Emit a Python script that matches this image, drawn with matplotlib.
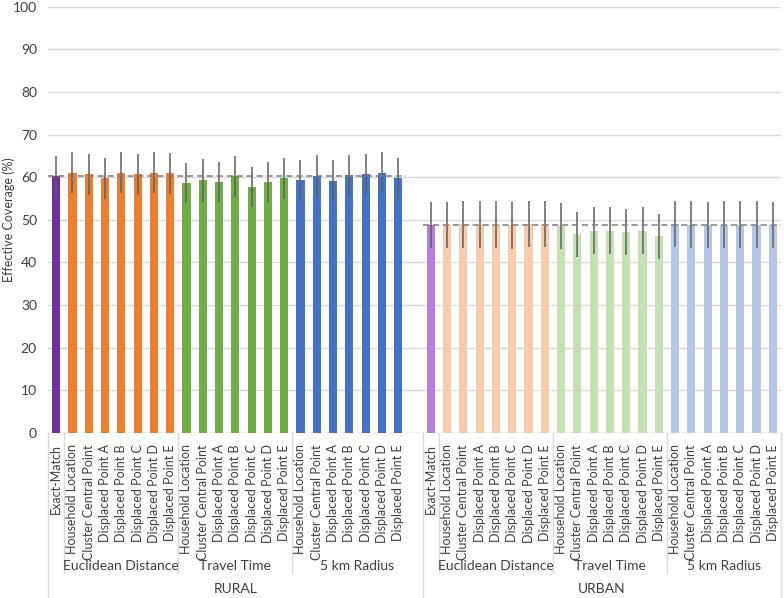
import matplotlib
matplotlib.use("Agg")
import matplotlib.pyplot as plt
import matplotlib.transforms as mtransforms

plt.rcParams['font.family'] = ['Lato', 'DejaVu Sans']

# category labels
methods = ["Household Location", "Cluster Central Point", "Displaced Point A",
           "Displaced Point B", "Displaced Point C", "Displaced Point D",
           "Displaced Point E"]
groups = ["Euclidean Distance", "Travel Time", "5 km Radius"]
regions = ["RURAL", "URBAN"]

# values (exact-match, then 7 per group)
rural_exact = 60.2
rural_exact_err = 4.8
rural_vals = [61.0, 60.7, 59.7, 61.0, 60.7, 61.0, 60.9,
              58.6, 59.3, 58.9, 60.2, 57.7, 58.8, 59.8,
              59.3, 60.2, 59.2, 60.5, 60.7, 61.0, 59.8]
rural_err = [4.8, 4.8, 4.8, 4.8, 4.8, 4.8, 4.8,
             4.7, 5.0, 4.7, 4.8, 4.7, 4.7, 4.8,
             4.7, 5.1, 4.8, 4.8, 4.8, 4.8, 4.8]

urban_exact = 48.8
urban_exact_err = 5.4
urban_vals = [48.9, 49.0, 48.9, 48.9, 48.7, 49.0, 49.1,
              48.5, 46.6, 47.5, 47.5, 47.1, 47.5, 46.1,
              49.0, 48.9, 48.9, 48.9, 48.9, 48.9, 48.9]
urban_err = [5.4, 5.5, 5.5, 5.5, 5.5, 5.4, 5.4,
             5.4, 5.3, 5.4, 5.4, 5.4, 5.4, 5.2,
             5.4, 5.5, 5.4, 5.5, 5.5, 5.5, 5.4]

dark_colors = ["#7030A0", "#ED7D31", "#70AD47", "#4472C4"]
light_colors = ["#B381DB", "#F8CBAD", "#C5E0B4", "#B4C7E7"]

fig = plt.figure(figsize=(7.84, 5.98), dpi=100)
ax = fig.add_axes([48 / 784, 1 - 433 / 598, 733 / 784, 426.3 / 598])

labels = []
positions = []


def draw_region(start, exact, exact_err, vals, errs, colors):
    xs = [start] + [start + 1 + i for i in range(len(vals))]
    ys = [exact] + vals
    es = [exact_err] + errs
    cols = [colors[0]] + [colors[1 + i // 7] for i in range(len(vals))]
    ax.bar(xs, ys, width=0.5, color=cols, zorder=2,
           yerr=es, error_kw=dict(ecolor="#5F5F5F", elinewidth=1.1, capsize=0, zorder=3))
    positions.extend(xs)
    labels.extend(["Exact-Match"] + methods * 3)


draw_region(0, rural_exact, rural_exact_err, rural_vals, rural_err, dark_colors)
draw_region(23, urban_exact, urban_exact_err, urban_vals, urban_err, light_colors)

# exact-match reference lines
ax.plot([-0.5, 21.5], [rural_exact, rural_exact], ls=(0, (4, 2.5)), color="#7F7F7F", lw=1.1, zorder=4)
ax.plot([22.5, 44.5], [urban_exact, urban_exact], ls=(0, (4, 2.5)), color="#7F7F7F", lw=1.1, zorder=4)

ax.set_xlim(-0.5, 44.5)
ax.set_ylim(0, 100)
ax.set_yticks(range(0, 101, 10))
ax.tick_params(axis='y', length=0, labelsize=10, pad=8, colors="#404040")
ax.grid(axis='y', color="#D9D9D9", lw=1, zorder=0)
for s in ax.spines.values():
    s.set_visible(False)
ax.axhline(0, color="#D9D9D9", lw=1, zorder=1)

ax.set_xticks(positions)
ax.set_xticklabels(labels, rotation=90, fontsize=9, color="#404040")
ax.tick_params(axis='x', length=0, pad=8)
ax.set_ylabel("Effective Coverage (%)", fontsize=9, color="#404040")
ax.yaxis.set_label_coords(-0.045, 0.5)

trans = mtransforms.blended_transform_factory(ax.transData, ax.transAxes)
sep = "#D9D9D9"
# level-2 separators
for x in [0.5, 7.5, 14.5, 23.5, 30.5, 37.5]:
    ax.plot([x, x], [0, -0.328], transform=trans, color=sep, lw=1, clip_on=False)
# region separators
for x in [-0.5, 22.5, 44.5]:
    ax.plot([x, x], [0, -0.39], transform=trans, color=sep, lw=1, clip_on=False)

group_spans = [(0.5, 7.5), (7.5, 14.5), (14.5, 22.5),
               (23.5, 30.5), (30.5, 37.5), (37.5, 44.5)]
for (a, b), name in zip(group_spans, groups * 2):
    ax.text((a + b) / 2, -0.311, name, transform=trans, ha='center', va='center',
            fontsize=10, color="#404040")
for (a, b), name in zip([(-0.5, 22.5), (22.5, 44.5)], regions):
    ax.text((a + b) / 2, -0.366, name, transform=trans, ha='center', va='center',
            fontsize=10, color="#404040")

fig.savefig("out.png", dpi=100)
